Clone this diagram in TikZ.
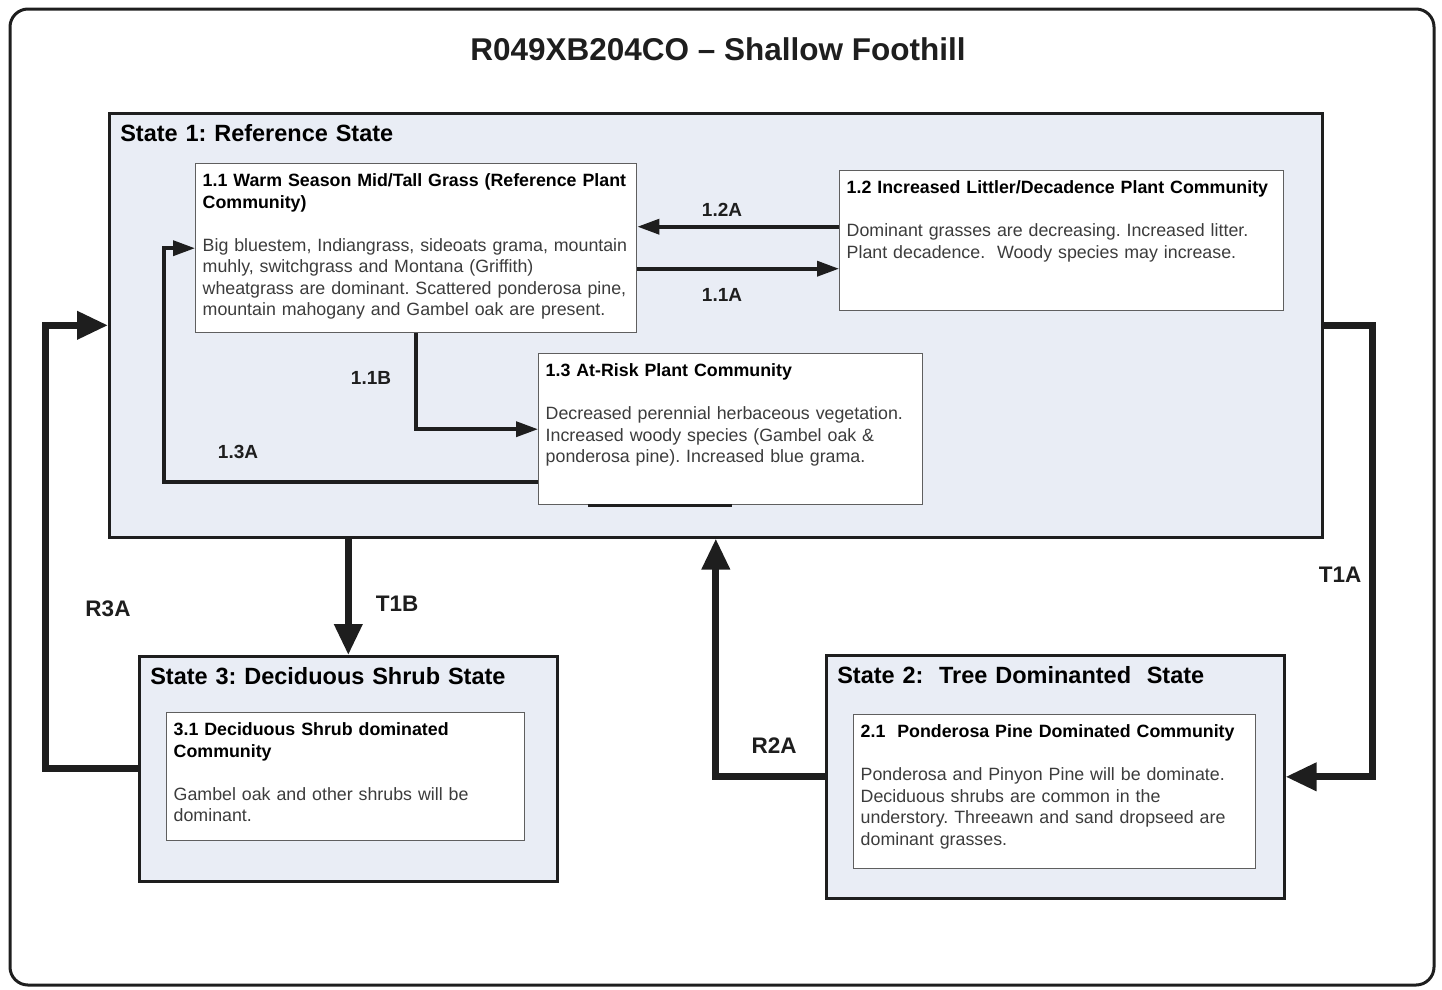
\documentclass[tikz,border=0pt]{standalone}
\usepackage{fontspec}
\setmainfont{Liberation Sans}
\usetikzlibrary{arrows.meta,positioning}
\definecolor{statefill}{RGB}{233,237,245}
\definecolor{edge}{RGB}{30,30,30}
\definecolor{commedge}{RGB}{95,95,95}
\definecolor{bodytext}{RGB}{60,60,60}
\frenchspacing

\begin{document}
\begin{tikzpicture}[x=1pt, y=-1pt,
  every node/.style={font=\fontsize{17.8}{21.5}\selectfont},
  statebox/.style={draw=edge, fill=statefill, line width=2.6pt, anchor=north west, align=left,
    inner xsep=11pt, inner ysep=8pt, text height=20pt, font=\fontsize{23.5}{28}\selectfont\bfseries},
  comm/.style={draw=commedge, fill=white, line width=1.4pt, anchor=north west, align=left,
    inner xsep=7pt, inner ysep=8pt, text height=15pt},
  flow/.style={draw=edge, line width=3.6pt, -{Triangle[length=22pt,width=15pt]}},
  jump/.style={draw=edge, line width=7pt, -{Triangle[length=31pt,width=27pt]}},
  lbl/.style={text=edge, font=\fontsize{19}{22}\selectfont\bfseries},
  biglbl/.style={text=edge, font=\fontsize{22.5}{26}\selectfont\bfseries}]

\useasboundingbox (0,0) rectangle (1442,989);

% Outer frame and title
\draw[edge, line width=3pt, rounded corners=18pt] (10,9) rectangle (1434,985);
\node[text=edge, font=\fontsize{31.5}{36}\selectfont\bfseries] (title) at (718,49) {R049XB204CO -- Shallow Foothill};

% State 1 and its communities
\node[statebox, text width=1191pt, text depth=388pt] (s1) at (108,112) {State 1: Reference State};

\node[comm, text width=427pt, text depth=138pt] (c11) at (195,163)
  {{\bfseries 1.1 Warm Season Mid/Tall Grass (Reference Plant\\Community)}\\[21.5pt]
   {\color{bodytext}Big bluestem, Indiangrass, sideoats grama, mountain\\muhly, switchgrass and Montana (Griffith)\\wheatgrass are dominant. Scattered ponderosa pine,\\mountain mahogany and Gambel oak are present.}};

\node[comm, text width=430pt, text depth=109pt] (c12) at (839,170)
  {{\bfseries 1.2 Increased Littler/Decadence Plant Community}\\[21.5pt]
   {\color{bodytext}Dominant grasses are decreasing. Increased litter.\\Plant decadence.\ \ Woody species may increase.}};

\node[comm, text width=370pt, text depth=120pt] (c13) at (538,353)
  {{\bfseries 1.3 At-Risk Plant Community}\\[21.5pt]
   {\color{bodytext}Decreased perennial herbaceous vegetation.\\Increased woody species (Gambel oak \&\\ponderosa pine). Increased blue grama.}};
\draw[edge, line width=2.5pt] ([xshift=50pt]c13.south west) -- ([xshift=194pt]c13.south west);

% State 3
\node[statebox, text width=396pt, text depth=189pt] (s3) at (138,655) {State 3: Deciduous Shrub State};
\node[comm, text width=344pt, text depth=97pt] (c31) at (166,712)
  {{\bfseries 3.1 Deciduous Shrub dominated\\Community}\\[21.5pt]
   {\color{bodytext}Gambel oak and other shrubs will be\\dominant.}};

% State 2
\node[statebox, text width=436pt, text depth=207pt] (s2) at (825,654) {State 2:\ \ Tree Dominanted\ \ State};
\node[comm, text width=388pt, text depth=123pt] (c21) at (853,714)
  {{\bfseries 2.1\ \ Ponderosa Pine Dominated Community}\\[21.5pt]
   {\color{bodytext}Ponderosa and Pinyon Pine will be dominate.\\Deciduous shrubs are common in the\\understory. Threeawn and sand dropseed are\\dominant grasses.}};

% Community pathways
\coordinate (p12) at ([yshift=14pt]c12.west);
\draw[flow] (p12) -- (p12 -| c11.east);
\coordinate (p11) at ([yshift=-20.5pt]c11.east);
\draw[flow] (p11) -- (p11 -| c12.west);
\draw[flow] (c11.south) |- (c13.west);
\coordinate (p13) at ([yshift=-52.5pt]c13.west);
\draw[flow] (p13) -- ++(-374,0) |- (c11.west);

\node[lbl] (l12a) at (722,210) {1.2A};
\node[lbl] (l11a) at (722,295) {1.1A};
\node[lbl] (l11b) at (371,378) {1.1B};
\node[lbl] (l13a) at (238,452) {1.3A};

% Transitions and restorations
\draw[jump] (s3.north |- s1.south) -- (s3.north);
\draw[jump] (s3.west) -- ++(-93,0) |- (s1.west);
\draw[jump] (s1.east) -- ++(49,0) |- (s2.east);
\draw[jump] (s2.west) -| (s1.south);

\node[biglbl] (t1b) at (397,604) {T1B};
\node[biglbl] (r3a) at (108,609) {R3A};
\node[biglbl] (r2a) at (774,746) {R2A};
\node[biglbl] (t1a) at (1340,575) {T1A};

\end{tikzpicture}
\end{document}
